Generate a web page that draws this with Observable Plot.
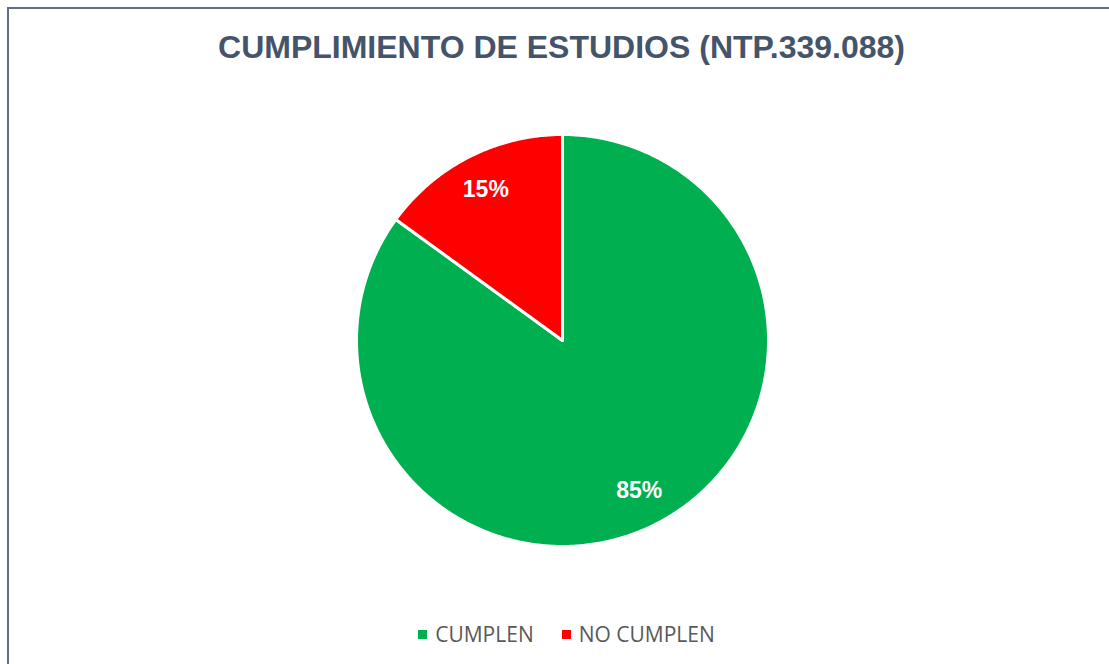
<!DOCTYPE html>
<html>
<head>
<meta charset="utf-8">
<script src="https://cdn.jsdelivr.net/npm/d3@7"></script>
<script src="https://cdn.jsdelivr.net/npm/@observablehq/plot@0.6"></script>
<style>
  html, body { margin: 0; padding: 0; background: #fff; overflow: hidden; }
  #wrap { position: relative; width: 1109px; height: 664px; }
  #frame { position: absolute; left: 7px; top: 7px; width: 1106px; height: 700px; border: 2px solid #5f6e87; box-sizing: border-box; }
  #title { position: absolute; left: 8px; width: 1107px; top: 31px; text-align: center; font-family: "Liberation Sans", Arial, sans-serif; font-weight: bold; font-size: 32px; line-height: 32px; color: #44546A; white-space: nowrap; }
  #chart { position: absolute; left: 0; top: 110px; }
  #legend { position: absolute; left: 0; width: 1109px; top: 624px; display: flex; justify-content: center; font-family: "Open Sans", sans-serif; font-size: 21px; line-height: 20px; color: #595959; padding-left: 24px; box-sizing: border-box; }
  .item { display: flex; align-items: center; margin: 0 14px; }
  .sw { width: 9px; height: 9px; margin-right: 8px; margin-top: 1px; }
</style>
</head>
<body>
<div id="wrap">
  <div id="frame"></div>
  <div id="title"></div>
  <div id="chart"></div>
  <div id="legend"></div>
</div>
<script>
const title = "CUMPLIMIENTO DE ESTUDIOS (NTP.339.088)";
const categories = ["CUMPLEN", "NO CUMPLEN"];
const values = [85, 15];
const labels = ["85%", "15%"];
const colors = ["#00B050", "#FF0000"];

document.getElementById("title").textContent = title;

const W = 1109, H = 460;
const R = 206;             // pixel radius
const cx = 562, cy = 230;  // pixel center within svg

const pie = d3.pie().sort(null).value(d => d.value)(
  categories.map((c, i) => ({name: c, value: values[i], label: labels[i]}))
);

// polygon outline points of each slice (unit circle, angle 0 at top, clockwise)
const pts = [];
pie.forEach(a => {
  const n = Math.max(2, Math.ceil((a.endAngle - a.startAngle) / (Math.PI / 360)));
  pts.push({name: a.data.name, x: 0, y: 0});
  for (let k = 0; k <= n; k++) {
    const t = a.startAngle + (a.endAngle - a.startAngle) * k / n;
    pts.push({name: a.data.name, x: Math.sin(t), y: Math.cos(t)});
  }
  pts.push({name: a.data.name, x: 0, y: 0});
});

const lab = pie.map(a => {
  const m = (a.startAngle + a.endAngle) / 2;
  return {label: a.data.label, x: 0.82 * Math.sin(m), y: 0.82 * Math.cos(m)};
});

const plot = Plot.plot({
  width: W, height: H,
  margin: 0,
  x: {domain: [-cx / R, (W - cx) / R], axis: null},
  y: {domain: [-(H - cy) / R, cy / R], axis: null},
  color: {domain: categories, range: colors},
  marks: [
    Plot.line(pts, {x: "x", y: "y", z: "name", fill: "name", stroke: "#fff", strokeWidth: 3, strokeLinejoin: "round", curve: "linear"}),
    Plot.text(lab, {x: "x", y: "y", text: "label", fill: "#fff", fontSize: 23, fontWeight: "bold", fontFamily: "Liberation Sans, Arial, sans-serif"})
  ]
});
document.getElementById("chart").appendChild(plot);

const leg = document.getElementById("legend");
categories.forEach((c, i) => {
  const it = document.createElement("div");
  it.className = "item";
  const sw = document.createElement("span");
  sw.className = "sw";
  sw.style.background = colors[i];
  const tx = document.createElement("span");
  tx.textContent = c;
  it.appendChild(sw); it.appendChild(tx);
  leg.appendChild(it);
});
</script>
</body>
</html>
